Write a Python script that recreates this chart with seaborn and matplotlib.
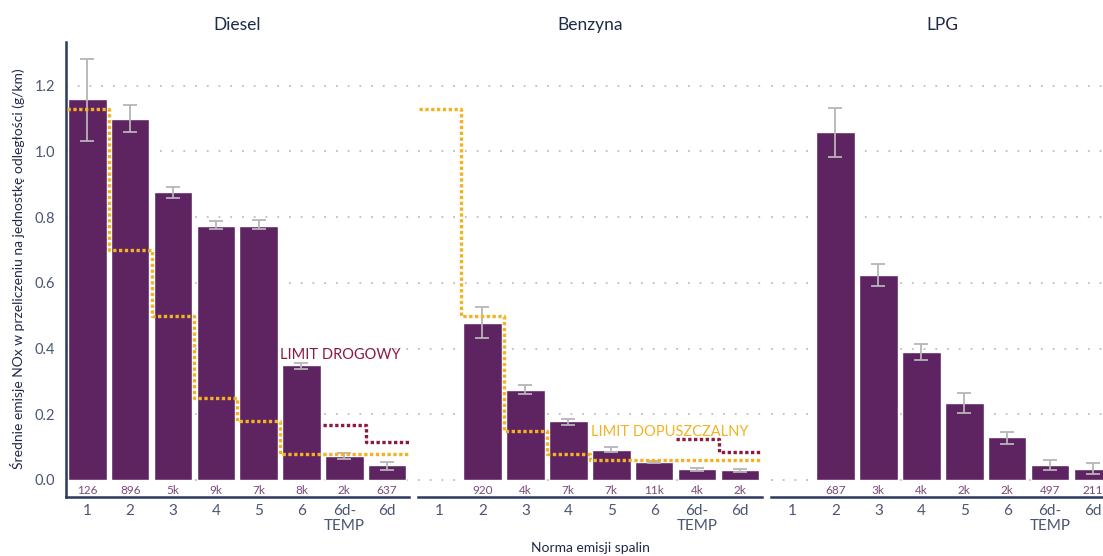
import numpy as np
import pandas as pd
import matplotlib
matplotlib.use("Agg")
import matplotlib.pyplot as plt
import seaborn as sns

# ---------------- data ----------------
categories = ["1", "2", "3", "4", "5", "6", "6d-TEMP", "6d"]
tick_labels = ["1", "2", "3", "4", "5", "6", "6d-\nTEMP", "6d"]
fuels = ["Diesel", "Benzyna", "LPG"]

diesel_mean = [1.159, 1.099, 0.876, 0.774, 0.774, 0.350, 0.074, 0.045]
diesel_lo = [1.031, 1.058, 0.858, 0.765, 0.763, 0.337, 0.063, 0.029]
diesel_hi = [1.281, 1.141, 0.893, 0.787, 0.790, 0.357, 0.083, 0.056]
diesel_n = ["126", "896", "5k", "9k", "7k", "8k", "2k", "637"]

benz_mean = [np.nan, 0.478, 0.274, 0.178, 0.091, 0.055, 0.033, 0.030]
benz_lo = [np.nan, 0.431, 0.261, 0.167, 0.084, 0.053, 0.027, 0.023]
benz_hi = [np.nan, 0.525, 0.290, 0.185, 0.0995, 0.058, 0.037, 0.034]
benz_n = ["", "920", "4k", "7k", "7k", "11k", "4k", "2k"]

lpg_mean = [np.nan, 1.058, 0.623, 0.389, 0.235, 0.130, 0.046, 0.033]
lpg_lo = [np.nan, 0.984, 0.591, 0.364, 0.203, 0.110, 0.030, 0.018]
lpg_hi = [np.nan, 1.132, 0.658, 0.414, 0.265, 0.147, 0.061, 0.052]
lpg_n = ["", "687", "3k", "4k", "2k", "2k", "497", "211"]

# limits (Limit dopuszczalny = yellow, Limit drogowy = red)
diesel_limit = [1.13, 0.70, 0.50, 0.25, 0.18, 0.08, 0.08, 0.08]
diesel_road = [np.nan, np.nan, np.nan, np.nan, np.nan, np.nan, 0.168, 0.114]
benz_limit = [1.13, 0.50, 0.15, 0.08, 0.06, 0.06, 0.06, 0.06]
benz_road = [np.nan, np.nan, np.nan, np.nan, np.nan, np.nan, 0.126, 0.086]

panels = {
    "Diesel": dict(mean=diesel_mean, lo=diesel_lo, hi=diesel_hi, n=diesel_n,
                   limit=diesel_limit, road=diesel_road),
    "Benzyna": dict(mean=benz_mean, lo=benz_lo, hi=benz_hi, n=benz_n,
                    limit=benz_limit, road=benz_road),
    "LPG": dict(mean=lpg_mean, lo=lpg_lo, hi=lpg_hi, n=lpg_n,
                limit=None, road=None),
}

# ---------------- style ----------------
sns.set_style("white")
plt.rcParams["font.family"] = ["Lato", "DejaVu Sans"]

BAR = "#5E2361"
NAVY = "#2B3A5E"
TICK = "#4A5672"
YELLOW = "#F3B224"
RED = "#8C1B3E"
ERR = "#B8B4B8"
COUNT = "#7A4A78"
GRID = "#BDBDBD"

W, H = 1103, 556
fig = plt.figure(figsize=(W / 100, H / 100), dpi=100)

# axes pixel extents (left, right)
ax_px = [(66, 408.5), (418, 761.5), (771, 1114.5)]
top_px, bot_px = 42, 497
ylim = (-0.052, 1.333)

axes = []
for (l, r) in ax_px:
    ax = fig.add_axes([l / W, 1 - bot_px / H, (r - l) / W, (bot_px - top_px) / H])
    axes.append(ax)

pos = np.arange(len(categories))

for ax, fuel in zip(axes, fuels):
    d = panels[fuel]
    df = pd.DataFrame({"norma": categories, "val": d["mean"]})
    # gridlines
    for yv in [0.0, 0.2, 0.4, 0.6, 0.8, 1.0, 1.2]:
        ax.axhline(yv, color=GRID, lw=1.3, ls=(0, (1, 5.5)), zorder=0)
    sns.barplot(data=df, x="norma", y="val", order=categories, color=BAR,
                saturation=1, width=0.9, errorbar=None, ax=ax, zorder=2)
    mean = np.array(d["mean"], dtype=float)
    lo = np.array(d["lo"], dtype=float)
    hi = np.array(d["hi"], dtype=float)
    ax.errorbar(pos, mean, yerr=[mean - lo, hi - mean], fmt="none",
                ecolor=ERR, elinewidth=1.3, capsize=4.8, capthick=1.3, zorder=3)
    for p, t in zip(pos, d["n"]):
        if t:
            ax.text(p, -0.031, t, ha="center", va="center", fontsize=8.5,
                    color=COUNT, zorder=4)
    # limit step lines
    if d["limit"] is not None:
        edges = pos + 0.5
        xs = np.concatenate([[pos[0] - 0.47], edges])
        ys = np.concatenate([d["limit"], [d["limit"][-1]]])
        ax.plot(xs, ys, drawstyle="steps-post", color=YELLOW, lw=2.4,
                ls=(0, (1, 0.75)), dash_capstyle="butt", zorder=5)
        road = np.array(d["road"], dtype=float)
        idx = np.where(~np.isnan(road))[0]
        xs_r = np.concatenate([[pos[idx[0]] - 0.5], edges[idx]])
        ys_r = np.concatenate([road[idx], [road[idx][-1]]])
        ax.plot(xs_r, ys_r, drawstyle="steps-post", color=RED, lw=2.4,
                ls=(0, (1, 0.75)), dash_capstyle="butt", zorder=5)

    ax.set_xlim(-0.5, len(categories) - 0.5)
    ax.set_ylim(*ylim)
    ax.set_xlabel("")
    ax.set_ylabel("")
    ax.set_xticks(pos)
    ax.set_xticklabels(tick_labels, fontsize=11, color=TICK, linespacing=1.1)
    ax.tick_params(axis="x", length=0, pad=5)
    for s in ["top", "right", "left"]:
        ax.spines[s].set_visible(False)
    ax.spines["bottom"].set_color(NAVY)
    ax.spines["bottom"].set_linewidth(1.8)
    ax.set_facecolor("none")
    # title
    ax.text(0.5, 1 + (42 - 25) / (bot_px - top_px), fuel, transform=ax.transAxes,
            ha="center", va="center", fontsize=12.5, color="#1E2A4A")

# left panel y axis
ax0 = axes[0]
ax0.spines["left"].set_visible(True)
ax0.spines["left"].set_color(NAVY)
ax0.spines["left"].set_linewidth(1.8)
ax0.set_yticks([0.0, 0.2, 0.4, 0.6, 0.8, 1.0, 1.2])
ax0.set_yticklabels(["0.0", "0.2", "0.4", "0.6", "0.8", "1.0", "1.2"],
                    fontsize=10.5, color=TICK)
ax0.tick_params(axis="y", length=0, pad=8)
for ax in axes[1:]:
    ax.set_yticks([])

# annotations
ax0.text(4.5, 0.38, "LIMIT DROGOWY", color=RED, fontsize=10.5,
         ha="left", va="center", zorder=6)
axes[1].text(3.52, 0.147, "LIMIT DOPUSZCZALNY", color=YELLOW, fontsize=10.5,
             ha="left", va="center", zorder=6)

fig.text(18 / W, 1 - 269 / H,
         "Średnie emisje NOx w przeliczeniu na jednostkę odległości (g/km)",
         rotation=90, ha="center", va="center", fontsize=10, color="#1E2A4A")
fig.text(590 / W, 1 - 548 / H, "Norma emisji spalin", ha="center",
         va="center", fontsize=10, color="#1E2A4A")

fig.savefig("out.png", dpi=100)
